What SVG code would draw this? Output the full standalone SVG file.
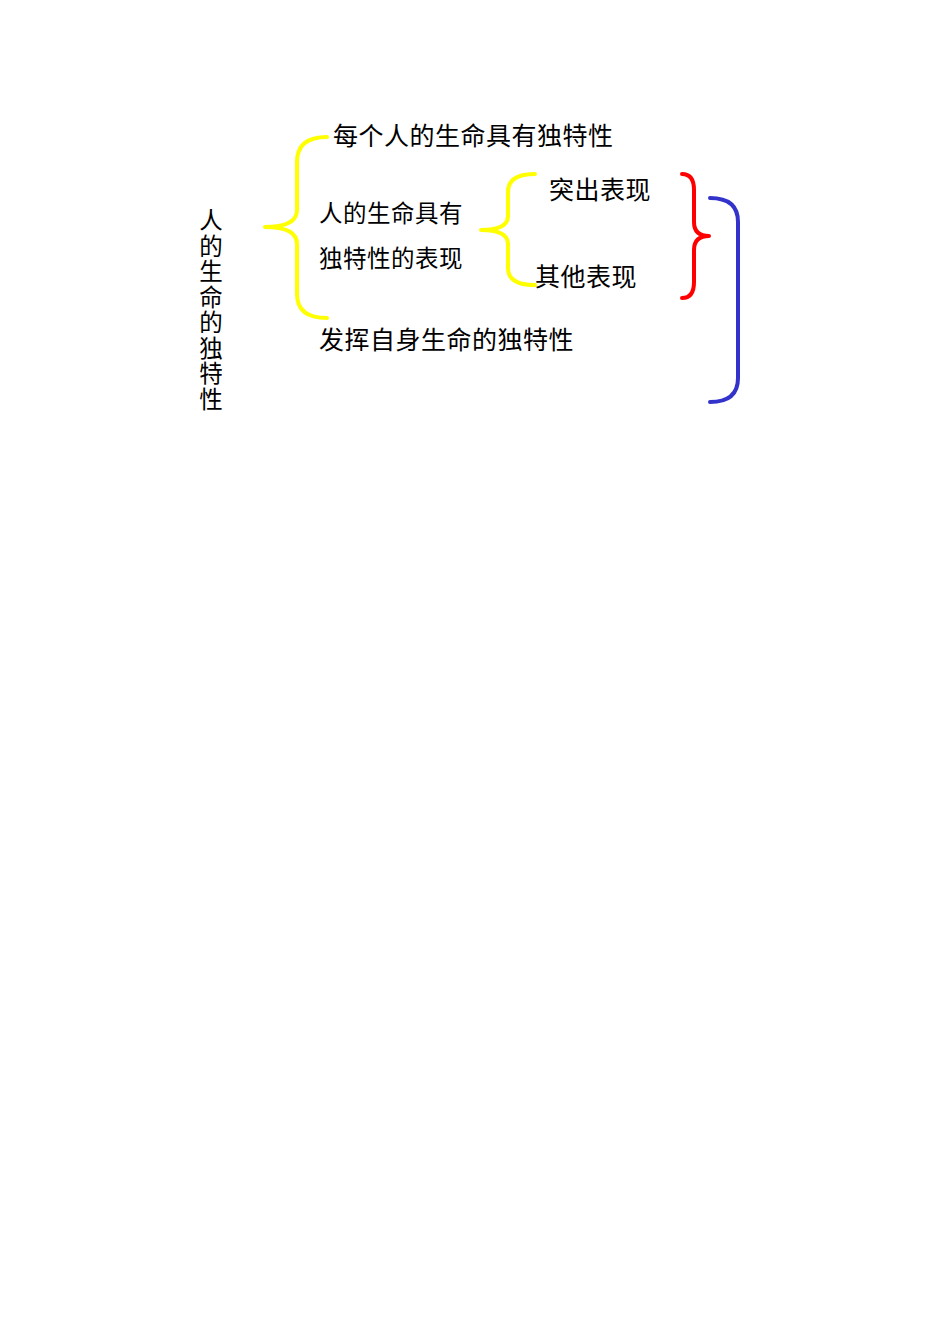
<svg xmlns="http://www.w3.org/2000/svg" width="950" height="1344" viewBox="0 0 950 1344">
<style>
.t{font-family:"Noto Sans CJK SC","Noto Sans CJK JP",sans-serif;font-size:25px;fill:#000;letter-spacing:0.5px}
.s{font-size:23.5px}
.v{font-size:23.5px;letter-spacing:0}
.b{fill:none;stroke-width:4;stroke-linecap:round;stroke-linejoin:round}
</style>
<rect width="950" height="1344" fill="#fff"/>
<g id="connectors">
<path class="b" stroke="#ffff00" d="M327,137 Q297,137 297,162 L297,210 Q297,227 265,227 Q297,227 297,244 L297,294 Q297,318 327,318"/>
<path class="b" stroke="#ffff00" d="M535,174 Q508,174 508,192 L508,216 Q508,230 481,230 Q508,230 508,244 L508,268 Q508,285 535,285"/>
<path class="b" stroke="#ff0000" d="M682,174 Q694,174 694,190 L694,222 Q694,236 709,236 Q694,236 694,250 L694,282 Q694,298 682,298"/>
<path class="b" stroke="#3333cc" d="M710,198 Q738,198 738,222 L738,378 Q738,402 710,402"/>
</g>
<g id="root">
<text class="t v" x="211" y="229" text-anchor="middle">人</text>
<text class="t v" x="211" y="254.5" text-anchor="middle">的</text>
<text class="t v" x="211" y="280" text-anchor="middle">生</text>
<text class="t v" x="211" y="305.5" text-anchor="middle">命</text>
<text class="t v" x="211" y="331" text-anchor="middle">的</text>
<text class="t v" x="211" y="356.5" text-anchor="middle">独</text>
<text class="t v" x="211" y="382" text-anchor="middle">特</text>
<text class="t v" x="211" y="407.5" text-anchor="middle">性</text>
</g>
<g id="n1"><text class="t" x="333" y="145">每个人的生命具有独特性</text></g>
<g id="n2">
<text class="t s" x="319" y="222">人的生命具有</text>
<text class="t s" x="319" y="267">独特性的表现</text>
</g>
<g id="n3"><text class="t" x="319" y="349">发挥自身生命的独特性</text></g>
<g id="n4"><text class="t" x="549" y="199">突出表现</text></g>
<g id="n5"><text class="t" x="535" y="286">其他表现</text></g>
</svg>
